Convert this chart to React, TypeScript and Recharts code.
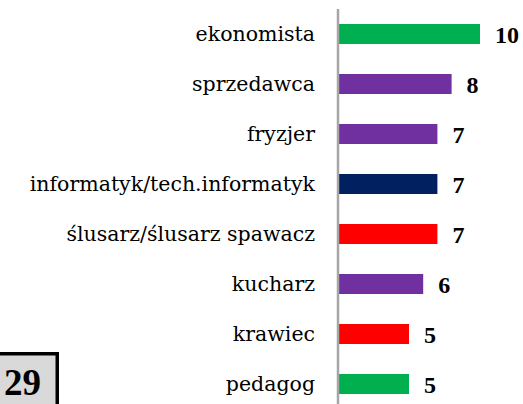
import { Bar, BarChart, Cell, LabelList, XAxis, YAxis } from 'recharts';

// occupations and number of answers, top to bottom as in the picture
const occupations = [
  'ekonomista',
  'sprzedawca',
  'fryzjer',
  'informatyk/tech.informatyk',
  'ślusarz/ślusarz spawacz',
  'kucharz',
  'krawiec',
  'pedagog',
];
const counts = [10, 8, 7, 7, 7, 6, 5, 5];
const barColors = [
  '#00B050',
  '#7030A0',
  '#7030A0',
  '#002060',
  '#FF0000',
  '#7030A0',
  '#FF0000',
  '#00B050',
];
const pageNumber = '29';

const rows = occupations.map((name, i) => ({ name, value: counts[i] }));

const W = 523;
const H = 404;

// category label, right aligned next to the axis line
function OccupationTick(props: any) {
  const { x, y, payload } = props;
  return (
    <text
      x={x}
      y={y}
      dy="0.355em"
      textAnchor="end"
      fill="#000"
      fontFamily='"DejaVu Serif", "Liberation Serif", serif'
      fontSize={20.5}
    >
      {payload.value}
    </text>
  );
}

export default function App() {
  return (
    <div
      style={{
        position: 'fixed',
        left: 0,
        top: 0,
        width: W,
        height: H,
        overflow: 'hidden',
        background: '#fff',
      }}
    >
      <BarChart
        layout="vertical"
        width={W}
        height={410}
        data={rows}
        margin={{ top: 9, right: 43, bottom: 1, left: 0 }}
        barSize={20}
      >
        <XAxis type="number" hide domain={[0, 10]} />
        <YAxis
          type="category"
          dataKey="name"
          width={338}
          tickLine={false}
          tickSize={0}
          tickMargin={23}
          axisLine={{ stroke: '#A6A6A6', strokeWidth: 2.5 }}
          tick={<OccupationTick />}
          interval={0}
        />
        <Bar dataKey="value" isAnimationActive={false}>
          {rows.map((r, i) => (
            <Cell key={r.name} fill={barColors[i]} />
          ))}
          <LabelList
            dataKey="value"
            position="right"
            offset={15}
            style={{
              fill: '#000',
              fontSize: 24,
              fontWeight: 'bold',
              fontFamily: 'Liberation Serif',
            }}
          />
        </Bar>
      </BarChart>
      {/* page number box in the lower left corner */}
      <svg
        width={W}
        height={H}
        style={{ position: 'absolute', left: 0, top: 0, pointerEvents: 'none' }}
      >
        <rect x={-10} y={353.75} width={67.25} height={100} fill="#D9D9D9" stroke="#000" strokeWidth={3.5} />
        <text
          x={41}
          y={395}
          textAnchor="end"
          fontSize={37}
          fontWeight="bold"
          fontFamily="Liberation Serif"
          fill="#000"
        >
          {pageNumber}
        </text>
      </svg>
    </div>
  );
}
